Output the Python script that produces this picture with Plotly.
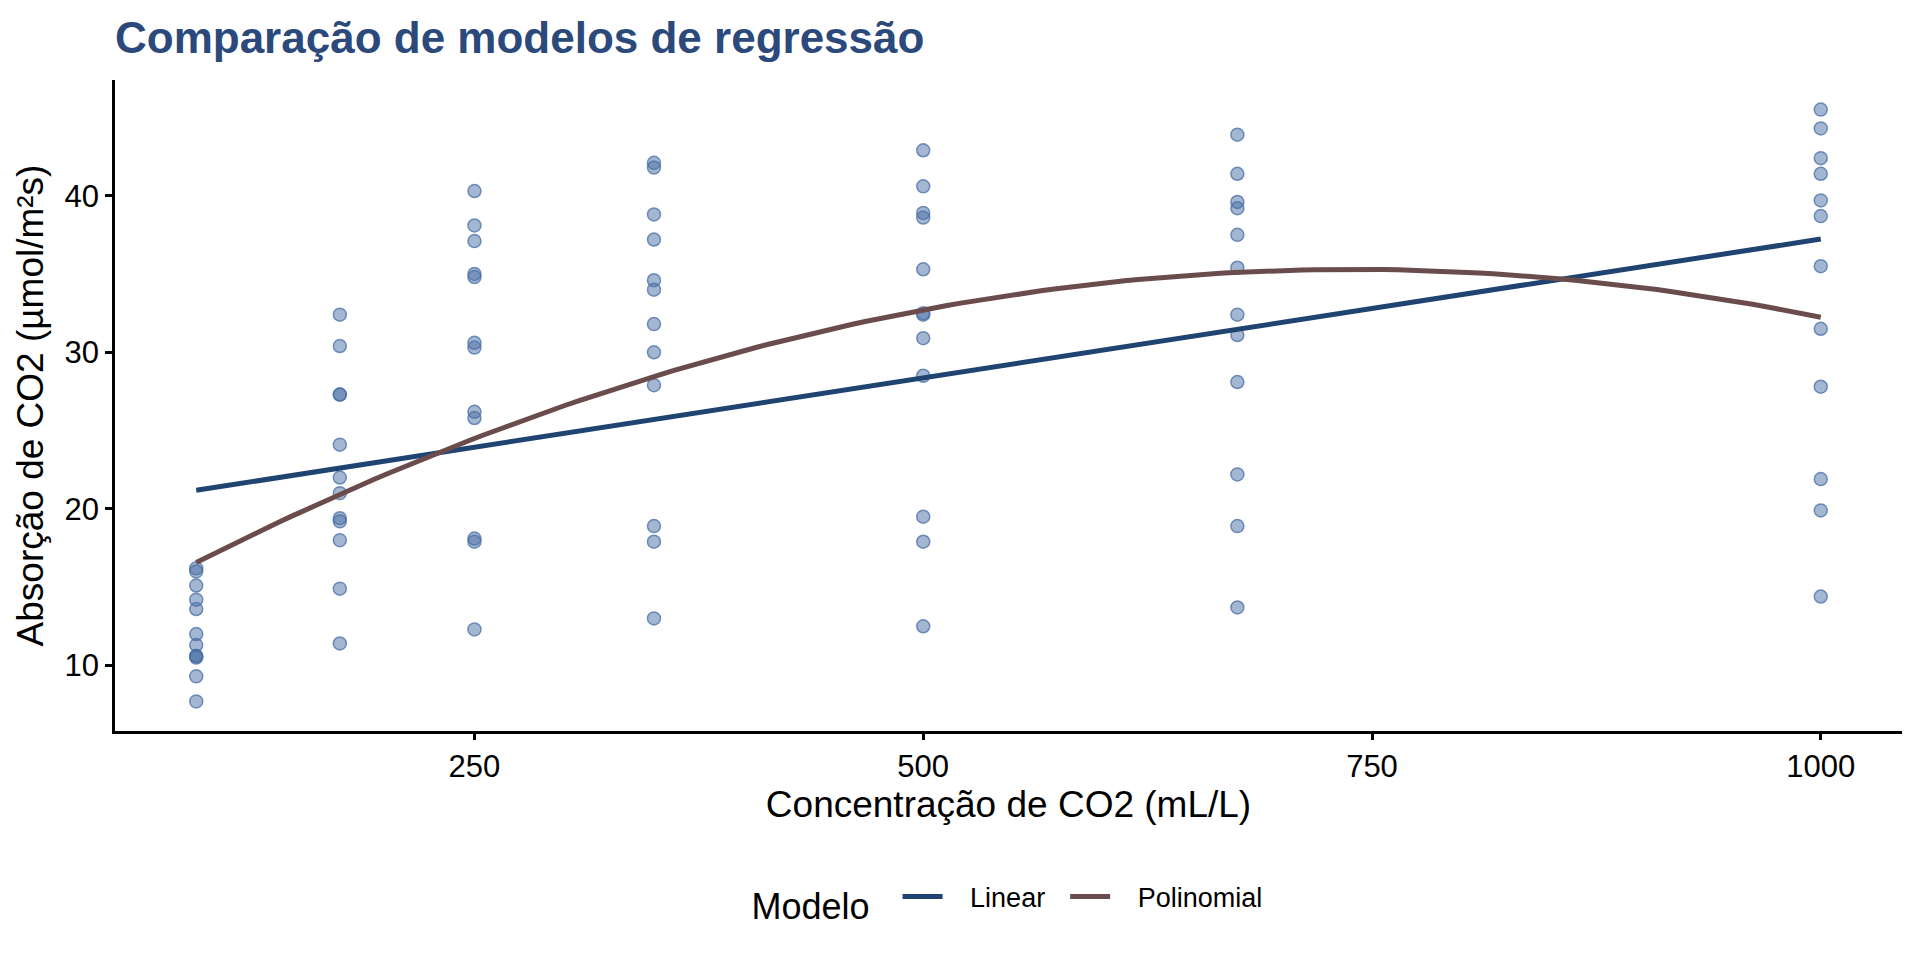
import numpy as np
import plotly.graph_objects as go

# CO2 data (conc in mL/L, uptake in umol/m2s), 12 plants x 7 concentrations
conc_levels = [95, 175, 250, 350, 500, 675, 1000]
uptake_by_plant = {
    "Qn1": [16.0, 30.4, 34.8, 37.2, 35.3, 39.2, 39.7],
    "Qn2": [13.6, 27.3, 37.1, 41.8, 40.6, 41.4, 44.3],
    "Qn3": [16.2, 32.4, 40.3, 42.1, 42.9, 43.9, 45.5],
    "Qc1": [14.2, 24.1, 30.3, 34.6, 32.5, 35.4, 38.7],
    "Qc2": [9.3, 27.3, 35.0, 38.8, 38.6, 37.5, 42.4],
    "Qc3": [15.1, 21.0, 38.1, 34.0, 38.9, 39.6, 41.4],
    "Mn1": [10.6, 19.2, 26.2, 30.0, 30.9, 32.4, 35.5],
    "Mn2": [12.0, 22.0, 30.6, 31.8, 32.4, 31.1, 31.5],
    "Mn3": [11.3, 19.4, 25.8, 27.9, 28.5, 28.1, 27.8],
    "Mc1": [10.5, 14.9, 18.1, 18.9, 19.5, 22.2, 21.9],
    "Mc2": [7.7, 11.4, 12.3, 13.0, 12.5, 13.7, 14.4],
    "Mc3": [10.6, 18.0, 17.9, 17.9, 17.9, 18.9, 19.9],
}
x_ticks = [250, 500, 750, 1000]
y_ticks = [10, 20, 30, 40]

conc = np.array([c for _ in uptake_by_plant for c in conc_levels], dtype=float)
uptake = np.array([u for vals in uptake_by_plant.values() for u in vals], dtype=float)

# regression models fitted to the data (as geom_smooth would)
lin = np.polyfit(conc, uptake, 1)
poly = np.polyfit(conc, uptake, 2)
xs = np.linspace(conc.min(), conc.max(), 120)

fig = go.Figure()
fig.add_trace(go.Scatter(
    x=conc, y=uptake, mode="markers", showlegend=False,
    marker=dict(size=13, color="rgba(74,111,165,0.5)",
                line=dict(color="rgba(74,111,165,0.75)", width=1.5)),
))
fig.add_trace(go.Scatter(
    x=xs, y=np.polyval(lin, xs), mode="lines", name="   Linear  ",
    line=dict(color="#1F4472", width=5),
))
fig.add_trace(go.Scatter(
    x=xs, y=np.polyval(poly, xs), mode="lines", name="   Polinomial",
    line=dict(color="#6B4C4C", width=5),
))

xr = conc.max() - conc.min()
yr = uptake.max() - uptake.min()

fig.update_layout(
    width=1920, height=960,
    paper_bgcolor="white", plot_bgcolor="white",
    font=dict(family="Liberation Sans, Arial, sans-serif", color="black"),
    margin=dict(l=107, r=26, t=72, b=237),
    title=dict(text="<b>Comparação de modelos de regressão</b>",
               font=dict(size=44, color="#2B4A7B"),
               x=0, xref="paper", xanchor="left",
               y=1 - 30 / 960, yref="container", yanchor="middle"),
    xaxis=dict(
        range=[conc.min() - 0.05 * xr, conc.max() + 0.05 * xr],
        tickvals=x_ticks, ticktext=[str(v) for v in x_ticks],
        showgrid=False, zeroline=False,
        showline=True, linecolor="black", linewidth=2.5,
        ticks="outside", ticklen=6, tickwidth=2.5, tickcolor="black",
        tickfont=dict(size=31, color="black"),
        title=dict(text="Concentração de CO2 (mL/L)", font=dict(size=37), standoff=4),
    ),
    yaxis=dict(
        range=[uptake.min() - 0.05 * yr, uptake.max() + 0.05 * yr],
        tickvals=y_ticks, ticktext=[str(v) for v in y_ticks],
        showgrid=False, zeroline=False,
        showline=True, linecolor="black", linewidth=2.5,
        ticks="outside", ticklen=7, tickwidth=2.5, tickcolor="black",
        tickfont=dict(size=31, color="black"),
        title=dict(text="Absorção de CO2 (µmol/m²s)", font=dict(size=37), standoff=10),
    ),
    legend=dict(
        orientation="h", x=0.5, xanchor="center", xref="paper",
        y=67 / 960, yref="container", yanchor="middle",
        title=dict(text="Modelo  ", font=dict(size=36), side="left"),
        font=dict(size=27),
        itemwidth=40,
    ),
)

fig.write_html("out.html")
